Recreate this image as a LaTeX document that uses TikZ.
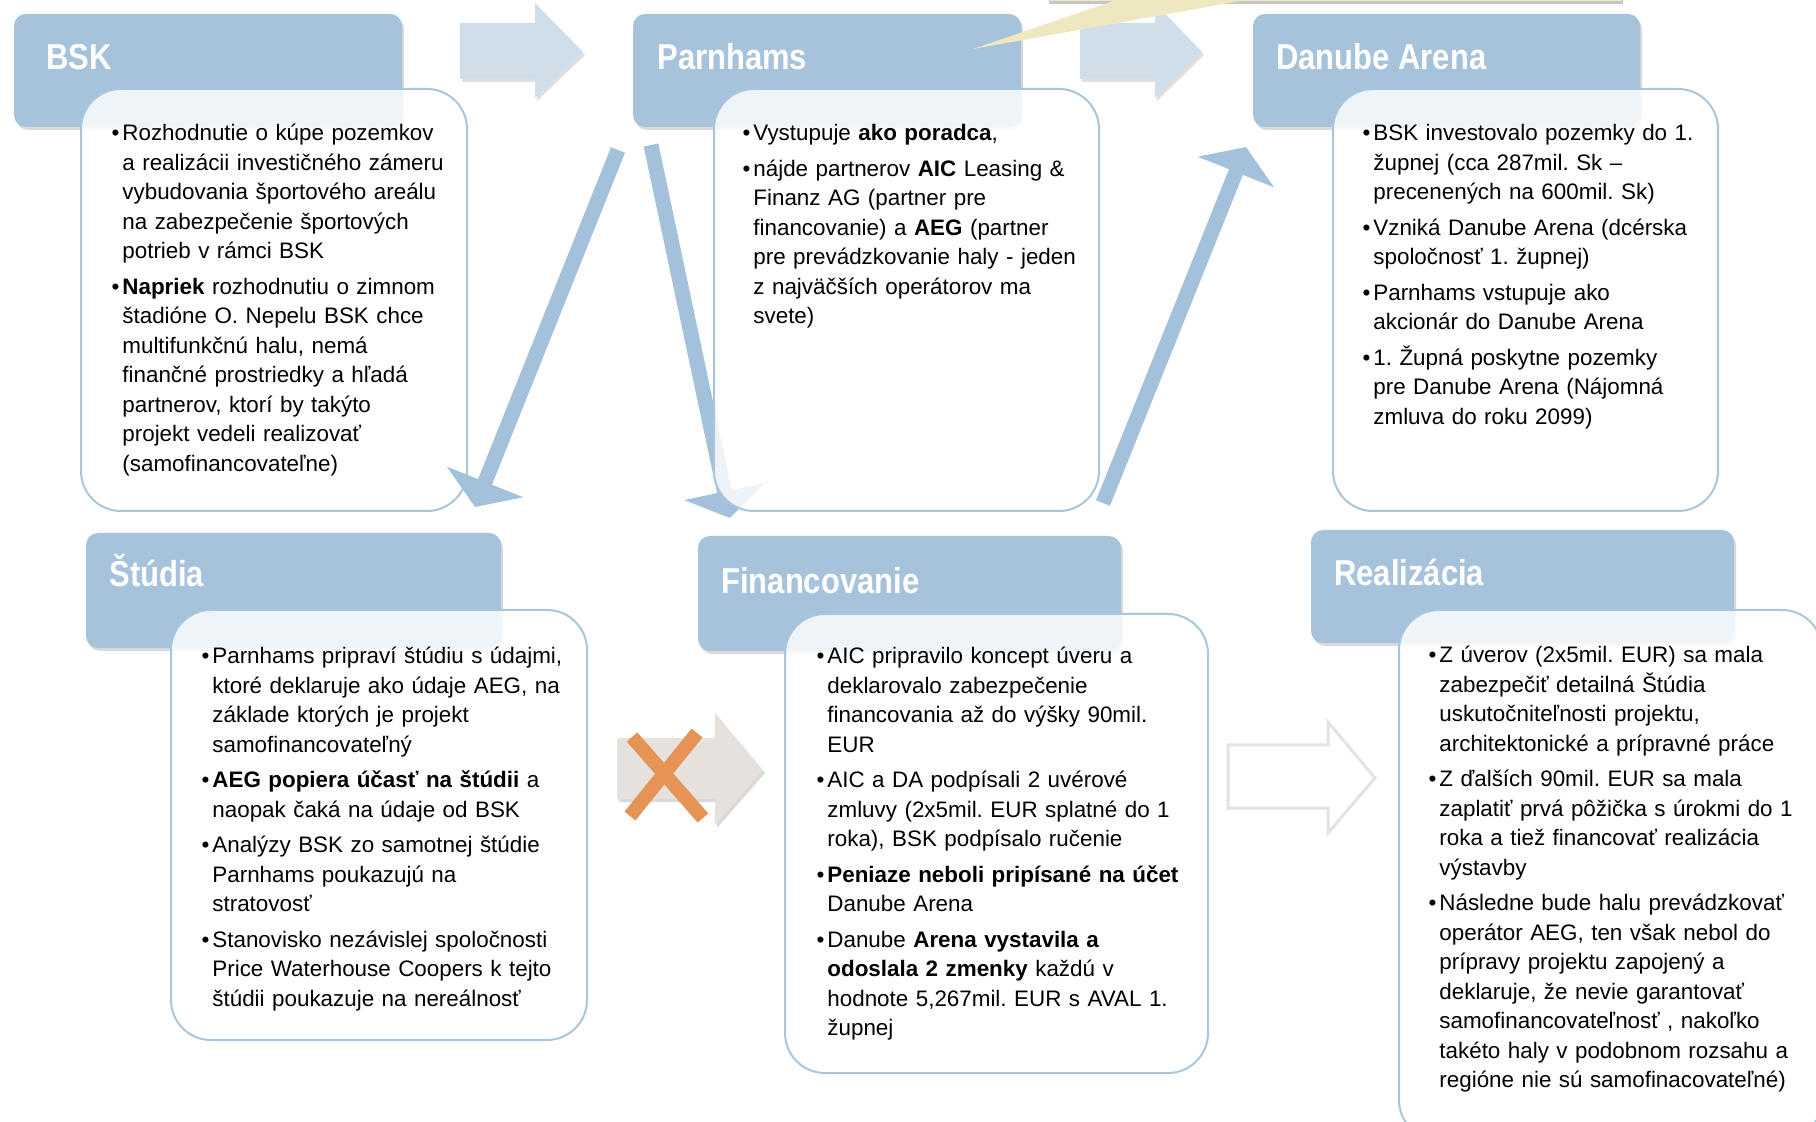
\documentclass[tikz,border=0pt]{standalone}
\usepackage{fontspec}
\setmainfont{Liberation Sans}
\newfontfamily\headfont{Liberation Sans}[FakeStretch=0.86]
\usetikzlibrary{arrows.meta,shadows}
\frenchspacing

\definecolor{hblue}{HTML}{A6C3DB}
\definecolor{lineblue}{HTML}{A9C6DE}
\definecolor{flowblue}{HTML}{A3C1DA}
\definecolor{paleblue}{HTML}{D0DEEA}
\definecolor{stopgrey}{HTML}{E6E1DD}
\definecolor{stoporange}{HTML}{E59455}
\definecolor{opengrey}{HTML}{E6E2DF}
\definecolor{callyellow}{HTML}{EEE7BF}

\newcommand{\itm}{\noindent\llap{\textbullet\hspace{1.5pt}}}
\newcommand{\nitm}{\par\vspace{3pt}\itm}

\tikzset{
  hbox/.style={rectangle, rounded corners=6pt, fill=hblue,
    drop shadow={opacity=0.3, shadow xshift=1pt, shadow yshift=-1.5pt}},
  cbox/.style={rectangle, rounded corners=20pt, draw=lineblue, line width=1pt,
    fill=white, fill opacity=0.82},
  htxt/.style={anchor=base west, inner sep=0pt, text=white,
    font=\headfont\bfseries\fontsize{18}{20}\selectfont},
  btxt/.style={anchor=base west, inner sep=0pt, text width=185pt, align=left,
    font=\fontsize{11.2}{14.75}\selectfont},
  flow/.style={draw=flowblue, line width=7.5pt, -{Triangle[length=13.5pt, width=40.5pt]}},
  toparr/.style={fill=paleblue, drop shadow={opacity=0.25, shadow xshift=1pt, shadow yshift=-1.5pt}},
  stoparr/.style={fill=stopgrey, drop shadow={opacity=0.3, shadow xshift=1pt, shadow yshift=-1.5pt}},
  cross/.style={draw=stoporange, line width=7pt},
  openarr/.style={draw=opengrey, line width=1.5pt, fill=white},
}

\begin{document}
\begin{tikzpicture}[x=0.5pt, y=-0.5pt]
  \useasboundingbox (0,0) rectangle (1816,1122);
  \clip (0,0) rectangle (1816,1122);

  \fill[toparr] (460,23) -- (535,23) -- (535,3) -- (583,52) -- (535,98) -- (535,79) -- (460,79) -- cycle;
  \fill[toparr] (1080,23) -- (1155,23) -- (1155,3) -- (1202,52) -- (1155,98) -- (1155,79) -- (1080,79) -- cycle;

  \node[hbox, minimum width=194pt, minimum height=56.5pt] (hbsk) at (208,70.5) {};
  \node[hbox, minimum width=194pt, minimum height=56.5pt] (hpar) at (827,70.5) {};
  \node[hbox, minimum width=193.5pt, minimum height=56.5pt] (hdan) at (1446.5,70.5) {};
  \node[hbox, minimum width=207.5pt, minimum height=57.5pt] (hstu) at (293.5,590.5) {};
  \node[hbox, minimum width=211.5pt, minimum height=57.5pt] (hfin) at (909.5,593.5) {};
  \node[hbox, minimum width=211.5pt, minimum height=56.5pt] (hrea) at (1522.5,586.5) {};

  \coordinate (aS) at (618,150);
  \coordinate (aE) at (475,507);
  \coordinate (bS) at (651,145);
  \coordinate (bE) at (730,518);
  \coordinate (cS) at (1103,503);
  \coordinate (cE) at (1246,147);

  \draw[flow] (bS) -- (bE);

  \node[cbox, minimum width=193pt, minimum height=211pt] (cbsk) at (274,300) {};
  \node[cbox, minimum width=192.5pt, minimum height=211pt] (cpar) at (906.5,300) {};
  \node[cbox, minimum width=192.5pt, minimum height=211pt] (cdan) at (1525.5,300) {};
  \node[cbox, minimum width=208pt, minimum height=215pt] (cstu) at (379,825) {};
  \node[cbox, minimum width=211.5pt, minimum height=229.5pt] (cfin) at (996.5,843.5) {};
  \node[cbox, minimum width=211.5pt, minimum height=265pt] (crea) at (1610.5,875) {};

  % 矢印を描く
  \draw[flow] (aS) -- (aE);
  \draw[flow] (cS) -- (cE);

  \fill[stoparr] (617,738) -- (715,738) -- (715,713) -- (763,770) -- (715,825) -- (715,799) -- (617,799) -- cycle;
  \draw[cross] (632,737) -- (703,818);
  \draw[cross] (697,733) -- (630,816);

  \draw[openarr] (1228,745) -- (1328,745) -- (1328,722) -- (1375,778) -- (1328,833) -- (1328,808) -- (1228,808) -- cycle;

  \node[htxt] (lbsk) at (46,70) {BSK};
  \node[htxt] (lpar) at (657,70) {Parnhams};
  \node[htxt] (ldan) at (1276,70) {Danube Arena};
  \node[htxt] (lstu) at (109,587) {Štúdia};
  \node[htxt] (lfin) at (721,594) {Financovanie};
  \node[htxt] (lrea) at (1334,586) {Realizácia};

  \node[btxt] (tbsk) at (122,141) {\itm Rozhodnutie o kúpe pozemkov\\
    a realizácii investičného zámeru\\
    vybudovania športového areálu\\
    na zabezpečenie športových\\
    potrieb v rámci BSK
    \nitm \textbf{Napriek} rozhodnutiu o zimnom\\
    štadióne O. Nepelu BSK chce\\
    multifunkčnú halu, nemá\\
    finančné prostriedky a hľadá\\
    partnerov, ktorí by takýto\\
    projekt vedeli realizovať\\
    (samofinancovateľne)};

  \node[btxt] (tpar) at (753,141) {\itm Vystupuje \textbf{ako poradca},
    \nitm nájde partnerov \textbf{AIC} Leasing \&\\
    Finanz AG (partner pre\\
    financovanie) a \textbf{AEG} (partner\\
    pre prevádzkovanie haly - jeden\\
    z najväčších operátorov ma\\
    svete)};

  \node[btxt] (tdan) at (1373,141) {\itm BSK investovalo pozemky do 1.\\
    župnej (cca 287mil. Sk –\\
    precenených na 600mil. Sk)
    \nitm Vzniká Danube Arena (dcérska\\
    spoločnosť 1. župnej)
    \nitm Parnhams vstupuje ako\\
    akcionár do Danube Arena
    \nitm 1. Župná poskytne pozemky\\
    pre Danube Arena (Nájomná\\
    zmluva do roku 2099)};

  \node[btxt] (tstu) at (212,664) {\itm Parnhams pripraví štúdiu s údajmi,\\
    ktoré deklaruje ako údaje AEG, na\\
    základe ktorých je projekt\\
    samofinancovateľný
    \nitm \textbf{AEG popiera účasť na štúdii} a\\
    naopak čaká na údaje od BSK
    \nitm Analýzy BSK zo samotnej štúdie\\
    Parnhams poukazujú na\\
    stratovosť
    \nitm Stanovisko nezávislej spoločnosti\\
    Price Waterhouse Coopers k tejto\\
    štúdii poukazuje na nereálnosť};

  \node[btxt] (tfin) at (827,664) {\itm AIC pripravilo koncept úveru a\\
    deklarovalo zabezpečenie\\
    financovania až do výšky 90mil.\\
    EUR
    \nitm AIC a DA podpísali 2 uvérové\\
    zmluvy (2x5mil. EUR splatné do 1\\
    roka), BSK podpísalo ručenie
    \nitm \textbf{Peniaze neboli pripísané na účet}\\
    Danube Arena
    \nitm Danube \textbf{Arena vystavila a}\\
    \textbf{odoslala 2 zmenky} každú v\\
    hodnote 5,267mil. EUR s AVAL 1.\\
    župnej};

  \node[btxt] (trea) at (1439,663) {\itm Z úverov (2x5mil. EUR) sa mala\\
    zabezpečiť detailná Štúdia\\
    uskutočniteľnosti projektu,\\
    architektonické a prípravné práce
    \nitm Z ďalších 90mil. EUR sa mala\\
    zaplatiť prvá pôžička s úrokmi do 1\\
    roka a tiež financovať realizácia\\
    výstavby
    \nitm Následne bude halu prevádzkovať\\
    operátor AEG, ten však nebol do\\
    prípravy projektu zapojený a\\
    deklaruje, že nevie garantovať\\
    samofinancovateľnosť , nakoľko\\
    takéto haly v podobnom rozsahu a\\
    regióne nie sú samofinacovateľné)};

  \fill[callyellow, drop shadow={opacity=0.45, shadow xshift=0.5pt, shadow yshift=-1.5pt}]
    (1048,-80) rectangle (1622,1);
  \fill[callyellow] (973,49) -- (1128,-4) -- (1268,-4) -- cycle;
\end{tikzpicture}
\end{document}
